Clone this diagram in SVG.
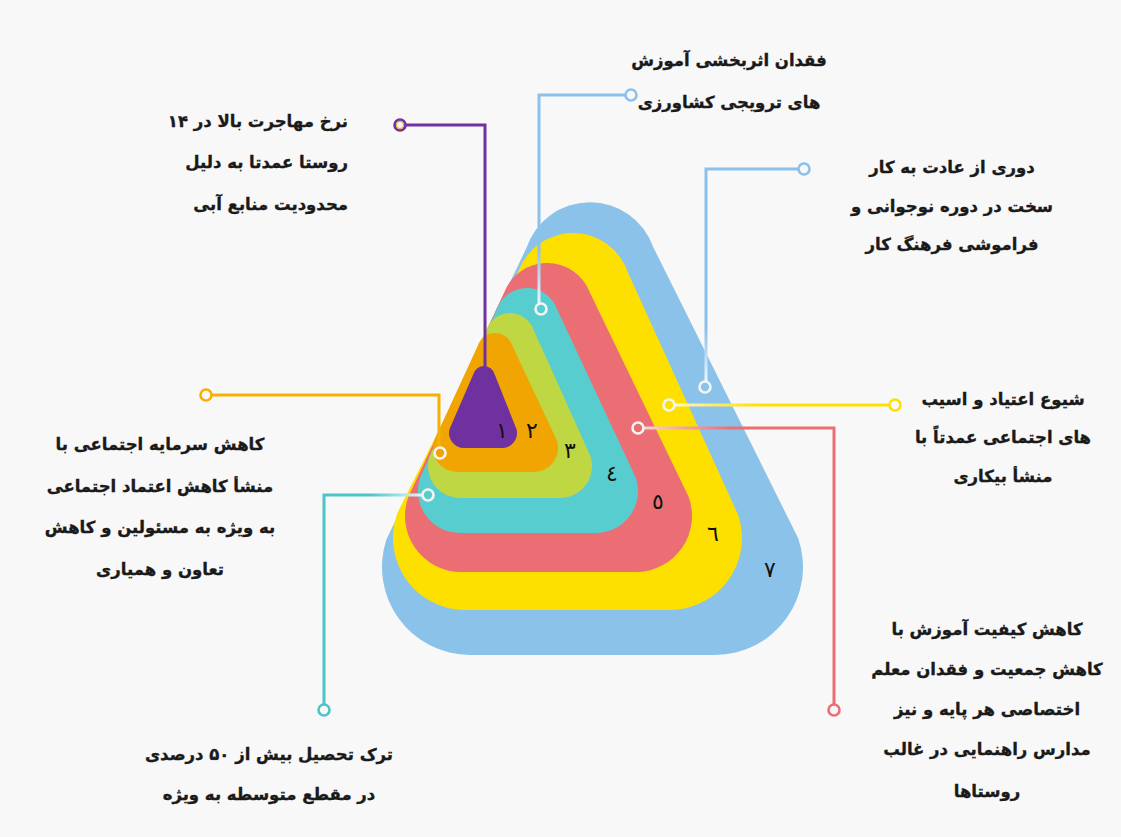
<svg xmlns="http://www.w3.org/2000/svg" width="1121" height="837" viewBox="0 0 1121 837">
<style>
.lbl{font-family:"DejaVu Sans","Noto Sans",sans-serif;font-weight:bold;font-size:16.5px;fill:#1a1a1a;stroke:#1a1a1a;stroke-width:0.35;direction:rtl;unicode-bidi:embed}
.num{font-family:"DejaVu Sans","Noto Sans",sans-serif;font-size:22px;fill:#111;text-anchor:middle}
.ln{fill:none;stroke-width:3;stroke-linejoin:miter}
.ring{fill:#f8f8f8;stroke-width:2.6}
.wring{fill:none;stroke:#f4f4f4;stroke-width:2.6}
</style>
<defs>
<linearGradient id="gBlueTop" gradientUnits="userSpaceOnUse" x1="0" y1="250" x2="0" y2="303"><stop offset="0" stop-color="#8bc1ea"/><stop offset="1" stop-color="#eef6fc"/></linearGradient>
<linearGradient id="gBlueR" gradientUnits="userSpaceOnUse" x1="0" y1="330" x2="0" y2="381"><stop offset="0" stop-color="#8bc1ea"/><stop offset="1" stop-color="#eef6fc"/></linearGradient>
<linearGradient id="gYel" gradientUnits="userSpaceOnUse" x1="675" y1="0" x2="760" y2="0"><stop offset="0" stop-color="#fff6c8"/><stop offset="1" stop-color="#fde000"/></linearGradient>
<linearGradient id="gRed" gradientUnits="userSpaceOnUse" x1="644" y1="0" x2="730" y2="0"><stop offset="0" stop-color="#f6d3d5"/><stop offset="1" stop-color="#eb6e74"/></linearGradient>
<linearGradient id="gTeal" gradientUnits="userSpaceOnUse" x1="422" y1="0" x2="370" y2="0"><stop offset="0" stop-color="#e6f7f7"/><stop offset="1" stop-color="#4cc4c8"/></linearGradient>
</defs>
<rect x="0" y="0" width="1121" height="837" fill="#f8f8f8"/>

<g id="layer7">
<path d="M526.4,248.1 A67,67 0 0 1 653.3,247.2 L798.2,538.3 A88,88 0 0 1 715,655 L470,655 A88,88 0 0 1 386.4,539.5 Z" fill="#8bc2ea"/>
<text class="num" x="770" y="577">٧</text>
</g>
<g id="layer6">
<path d="M518.7,270.6 A58,58 0 0 1 628,272.7 L738.3,515.3 A72,72 0 0 1 670,610 L465,610 A72,72 0 0 1 397.6,512.6 Z" fill="#fde000"/>
<text class="num" x="713" y="541">٦</text>
</g>
<g id="layer5">
<path d="M503.8,293.3 A46,46 0 0 1 590,292.7 L688.4,496.2 A56,56 0 0 1 636,572 L461,572 A56,56 0 0 1 408.4,496.8 Z" fill="#eb6e74"/>
<text class="num" x="658" y="509">٥</text>
</g>
<g id="layer4">
<path d="M496.6,310 A32,32 0 0 1 557.3,309.7 L635.7,477.4 A42,42 0 0 1 596,533 L460,533 A42,42 0 0 1 420.1,477.8 Z" fill="#58cdcf"/>
<text class="num" x="612" y="481">٤</text>
</g>
<g id="layer3">
<path d="M486.3,330.1 A25,25 0 0 1 533.7,330.1 L590.4,455.9 A32,32 0 0 1 560,498 L460,498 A32,32 0 0 1 429.6,455.9 Z" fill="#bed743"/>
<text class="num" x="570" y="458">٣</text>
</g>
<g id="layer2">
<path d="M477.9,345.4 A18,18 0 0 1 512.1,345.3 L556.8,440.3 A24,24 0 0 1 534,472 L457,472 A24,24 0 0 1 434.2,440.5 Z" fill="#f0a502"/>
<text class="num" x="532" y="438">٢</text>
</g>
<g id="layer1">
<path d="M473.4,374 A11,11 0 0 1 494.7,374.4 L516.6,429.4 A15,15 0 0 1 502,448 L464,448 A15,15 0 0 1 449.6,428.9 Z" fill="#7031a0"/>
<text class="num" x="502" y="438">١</text>
</g>

<g id="connectors">
<path class="ln" d="M405,125 H485 V367" stroke="#7031a0"/>
<circle class="ring" cx="400" cy="125" r="5.5" stroke="#7031a0"/>
<circle cx="400" cy="125" r="3.6" fill="none" stroke="#f0a502" stroke-width="1"/>

<path class="ln" d="M625,95 H539 V303" stroke="url(#gBlueTop)"/>
<circle class="ring" cx="631" cy="95" r="5.5" stroke="#8bc1ea"/>
<circle class="wring" cx="541" cy="309" r="5.5"/>

<path class="ln" d="M798,169 H706 V381" stroke="url(#gBlueR)"/>
<circle class="ring" cx="804" cy="169" r="5.5" stroke="#8bc1ea"/>
<circle class="wring" cx="705" cy="387" r="5.5"/>

<path class="ln" d="M889,405 H675" stroke="url(#gYel)"/>
<circle class="ring" cx="895" cy="405" r="5.5" stroke="#fde000"/>
<circle class="wring" cx="669" cy="405" r="5.5"/>

<path class="ln" d="M834,704 V428 H644" stroke="url(#gRed)"/>
<circle class="ring" cx="834" cy="710" r="5.5" stroke="#eb6e74"/>
<circle class="wring" cx="638" cy="428" r="5.5"/>

<path class="ln" d="M212,395 H439 V447" stroke="#f5b000"/>
<circle class="ring" cx="206" cy="395" r="5.5" stroke="#f5b000"/>
<circle class="wring" cx="440" cy="453" r="5.5"/>

<path class="ln" d="M324,704 V495 H422" stroke="url(#gTeal)"/>
<circle class="ring" cx="324" cy="710" r="5.5" stroke="#4cc4c8"/>
<circle class="wring" cx="428" cy="495" r="5.5"/>
</g>

<g id="label1">
<text class="lbl" text-anchor="start" x="348" y="127">نرخ مهاجرت بالا در ۱۴</text>
<text class="lbl" text-anchor="start" x="348" y="168">روستا عمدتا به دلیل</text>
<text class="lbl" text-anchor="start" x="348" y="210">محدودیت منابع آبی</text>
</g>
<g id="label2">
<text class="lbl" text-anchor="middle" x="160" y="450">کاهش سرمایه اجتماعی با</text>
<text class="lbl" text-anchor="middle" x="160" y="492">منشأ کاهش اعتماد اجتماعی</text>
<text class="lbl" text-anchor="middle" x="160" y="533">به ویژه به مسئولین و کاهش</text>
<text class="lbl" text-anchor="middle" x="160" y="575">تعاون و همیاری</text>
</g>
<g id="label3">
<text class="lbl" text-anchor="middle" x="269" y="760">ترک تحصیل بیش از ۵۰ درصدی</text>
<text class="lbl" text-anchor="middle" x="269" y="800">در مقطع متوسطه به ویژه</text>
</g>
<g id="label4">
<text class="lbl" text-anchor="middle" x="729" y="66">فقدان اثربخشی آموزش</text>
<text class="lbl" text-anchor="middle" x="729" y="108">های ترویجی کشاورزی</text>
</g>
<g id="label5">
<text class="lbl" text-anchor="middle" x="952" y="173">دوری از عادت به کار</text>
<text class="lbl" text-anchor="middle" x="952" y="212">سخت در دوره نوجوانی و</text>
<text class="lbl" text-anchor="middle" x="952" y="250">فراموشی فرهنگ کار</text>
</g>
<g id="label6">
<text class="lbl" text-anchor="middle" x="1003" y="405">شیوع اعتیاد و اسیب</text>
<text class="lbl" text-anchor="middle" x="1003" y="443">های اجتماعی عمدتاً با</text>
<text class="lbl" text-anchor="middle" x="1003" y="482">منشأ بیکاری</text>
</g>
<g id="label7">
<text class="lbl" text-anchor="middle" x="987" y="635">کاهش کیفیت آموزش با</text>
<text class="lbl" text-anchor="middle" x="987" y="675">کاهش جمعیت و فقدان معلم</text>
<text class="lbl" text-anchor="middle" x="987" y="715">اختصاصی هر پایه و نیز</text>
<text class="lbl" text-anchor="middle" x="987" y="755">مدارس راهنمایی در غالب</text>
<text class="lbl" text-anchor="middle" x="987" y="797">روستاها</text>
</g>
</svg>
